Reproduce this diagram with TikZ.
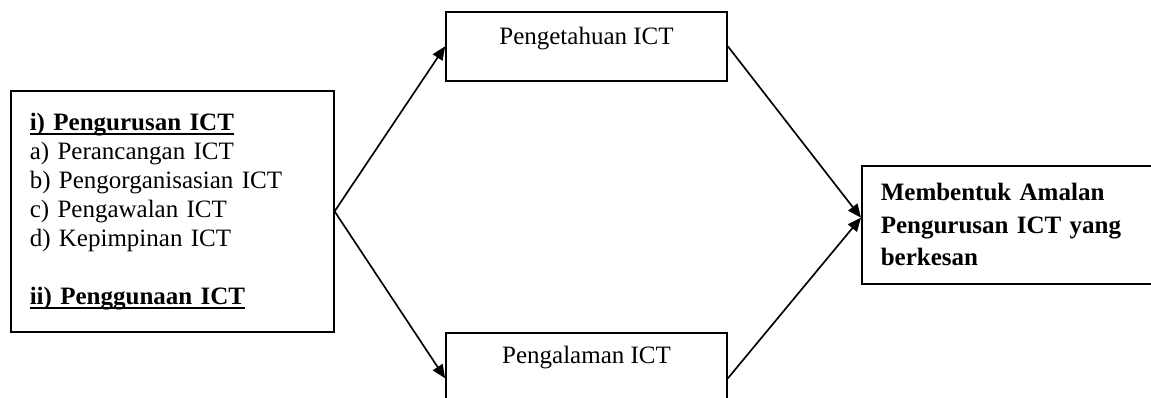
\documentclass[tikz,border=0pt]{standalone}
\usepackage{fontspec}
\setmainfont{Liberation Serif}
\usetikzlibrary{arrows.meta}
\newsavebox\hlbox
\newcommand\headline[1]{\leavevmode\sbox\hlbox{\bfseries #1}\rlap{\rule[-2.1pt]{\wd\hlbox}{0.9pt}}\usebox\hlbox}

\begin{document}
\begin{tikzpicture}
  [x=0.48pt,y=-0.48pt,line width=0.8pt,
   every node/.style={draw,rectangle,font=\fontsize{12}{13.9}\selectfont},
   midbox/.style={minimum width=134.9pt,inner ysep=0pt,anchor=north,align=center},
   link/.style={-{Triangle[length=6.5pt,width=5.5pt]}}]
  \useasboundingbox (0,0) rectangle (1151,398);
  \clip (0,0) rectangle (1151,398);

  \node (nsrc) [anchor=north west,text width=136.8pt,inner xsep=9.1pt,
    minimum height=115.7pt,align=left] at (10,90)
    {\headline{i) Pengurusan ICT}\\
     a) Perancangan ICT\\
     b) Pengorganisasian ICT\\
     c) Pengawalan ICT\\
     d) Kepimpinan ICT\\[13.9pt]
     \headline{ii) Penggunaan ICT}};
  \node (nknow) [midbox,text height=15.8pt,text depth=17.3pt] at (586.5,11) {Pengetahuan ICT};
  \node (nexp) [midbox,text height=14.9pt,text depth=28.8pt] at (586.5,332) {Pengalaman ICT};
  \node (nres) [anchor=north west,text width=144pt,inner xsep=9.1pt,
    minimum height=56.6pt,align=left,font=\fontsize{12}{15.6}\selectfont\bfseries] at (861,165)
    {Membentuk Amalan\\ Pengurusan ICT yang\\ berkesan};

  \coordinate (ntip) at ([yshift=3.4pt]nres.west);
  \foreach \from/\to in {nsrc.east/nknow.west,nsrc.east/nexp.west,nknow.east/ntip,nexp.east/ntip}
    \draw[link] (\from) -- (\to);

\end{tikzpicture}
\end{document}
